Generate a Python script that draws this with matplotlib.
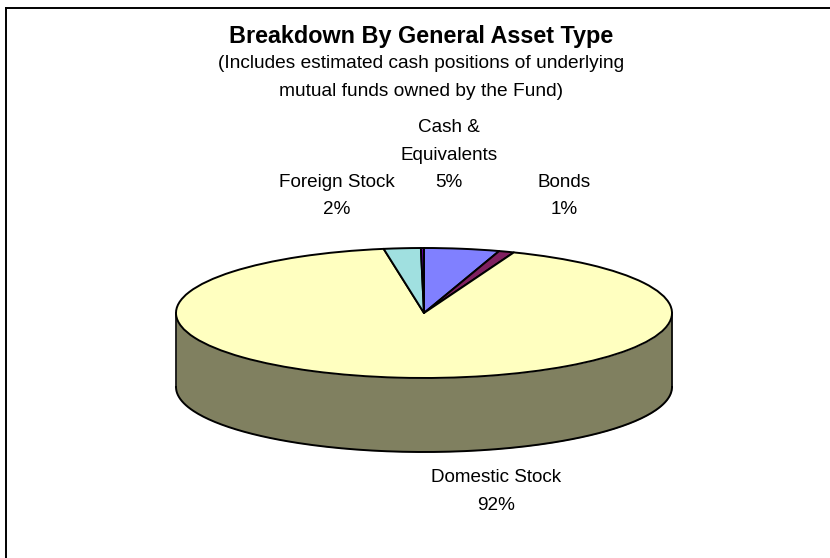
import numpy as np
import matplotlib
matplotlib.use('Agg')
import matplotlib.pyplot as plt
from matplotlib.lines import Line2D

plt.rcParams['font.family'] = ['Liberation Sans', 'DejaVu Sans']

# fund breakdown, percent of assets, clockwise from the top of the pie
categories = ['Cash &\nEquivalents', 'Bonds', 'Domestic Stock', 'Foreign Stock', 'Other']
values = [4.9, 1.0, 91.5, 2.4, 0.2]
colors = ['#8080ff', '#802060', '#ffffc0', '#a0e0e0', '#6000a0']
side_color = '#808060'

W, H = 830, 558
CX, CY = 424, 313     # pie centre, pixels from top left
RX, RY = 248, 65      # ellipse radii
DEPTH = 74            # height of the side wall

fig = plt.figure(figsize=(W / 100, H / 100), dpi=100, facecolor='white')

# chart frame: only the top and left edges fall inside the image
fig.add_artist(Line2D([5.5 / W, 5.5 / W], [0, 1 - 7.5 / H], color='black', lw=1.4, zorder=-1))
fig.add_artist(Line2D([5.5 / W, 1], [1 - 7.5 / H, 1 - 7.5 / H], color='black', lw=1.4, zorder=-1))

# axes placed so that the unit circle of the pie lands on the ellipse
x0, x1 = -1.1, 1.1
y0, y1 = -1 - (DEPTH + 10) / RY, 1.2
ax = fig.add_axes([(CX + x0 * RX) / W, (H - CY + y0 * RY) / H,
                   (x1 - x0) * RX / W, (y1 - y0) * RY / H])

ax.pie(values, colors=colors, startangle=90, counterclock=False,
       wedgeprops={'edgecolor': 'black', 'linewidth': 1.4, 'joinstyle': 'round', 'zorder': 3})
ax.set_aspect('auto')
ax.set_xlim(x0, x1)
ax.set_ylim(y0, y1)

# side wall under the front half of the ellipse
theta = np.linspace(np.pi, 2 * np.pi, 200)
d = DEPTH / RY
ax.fill_between(np.cos(theta), np.sin(theta), np.sin(theta) - d, color=side_color, linewidth=0, zorder=1)
ax.plot(np.cos(theta), np.sin(theta) - d, color='black', lw=1.4, zorder=2)
ax.plot([-1, -1], [0, -d], color='black', lw=1.2, zorder=2)
ax.plot([1, 1], [0, -d], color='black', lw=1.2, zorder=2)
ax.axis('off')


def px_text(x, y, s, **kw):
    fig.text(x / W, 1 - y / H, s, ha='center', va='center', **kw)


px_text(421, 37, 'Breakdown By General Asset Type', fontsize=16.8, fontweight='bold')
px_text(421, 64, '(Includes estimated cash positions of underlying', fontsize=13.8)
px_text(421, 91, 'mutual funds owned by the Fund)', fontsize=13.8)

label_pos = [(449, 128), (564, 183), (496, 478), (337, 183)]
LINE = 27
for name, val, (lx, ly) in zip(categories, values, label_pos):
    lines = name.split('\n') + ['%.0f%%' % val]
    for i, part in enumerate(lines):
        px_text(lx, ly + i * LINE, part, fontsize=13.6)

fig.savefig('out.png', dpi=100)
